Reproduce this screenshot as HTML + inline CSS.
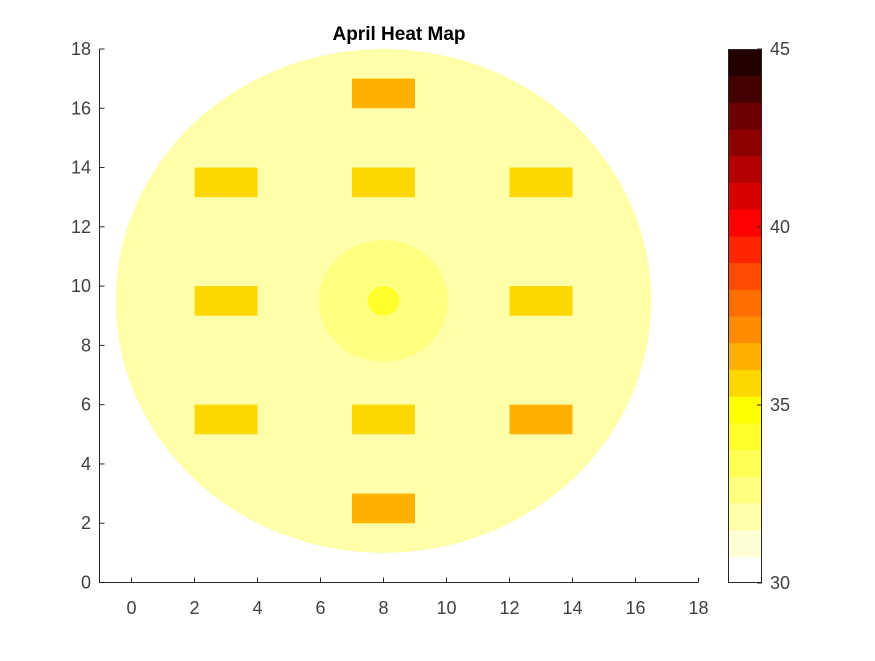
<!DOCTYPE html>
<html><head><meta charset="utf-8"><style>
body{margin:0;background:#fff;}
svg text{font-family:"Liberation Sans",sans-serif;}
</style></head><body>
<svg id="chart" width="875" height="656" viewBox="0 0 875 656" xmlns="http://www.w3.org/2000/svg">
<text x="399" y="40" text-anchor="middle" font-size="19" font-weight="bold" fill="#000">April Heat Map</text>
<g id="plot"></g>
<g id="axes"></g>
<g id="cbar"></g>
</svg>
<script>
const xTicks=[0,2,4,6,8,10,12,14,16,18];
const yTicks=[0,2,4,6,8,10,12,14,16,18];
const cbTicks=[30,35,40,45];
const cbColors=["#FFFFFF","#FFFFD5","#FFFFAA","#FFFF80","#FFFF55","#FFFF2B","#FFFF00","#FFD700","#FFB000","#FF8C00","#FF6E00","#FF4A00","#FF2600","#FF0000","#D90000","#B30000","#8C0000","#6B0000","#440000","#220000"];
// circles: center x, center y, radius, value
const circX=[8,8,8];
const circY=[9.5,9.5,9.5];
const circR=[8.5,2.05,0.5];
const circV=[31.8,32.6,34.0];
// rectangles: x0, y0 (width 2, height 1), value
const rectX=[7,2,7,12,2,12,2,7,12,7];
const rectY=[16,13,13,13,9,9,5,5,5,2];
const rectV=[36.2,35.5,35.5,35.5,35.5,35.5,35.5,35.5,36.2,36.2];
const rectW=[2,2,2,2,2,2,2,2,2,2];
const rectH=[1,1,1,1,1,1,1,1,1,1];

const NS="http://www.w3.org/2000/svg";
const X0=131.5,XS=31.5,Y0=582.5,YS=29.64;
const sx=v=>X0+v*XS, sy=v=>Y0-v*YS;
const cMin=30,cMax=45;
const color=v=>{let i=Math.floor((v-cMin)/(cMax-cMin)*cbColors.length);i=Math.max(0,Math.min(cbColors.length-1,i));return cbColors[i];};
function mk(t,a,p){const e=document.createElementNS(NS,t);for(const k in a)e.setAttribute(k,a[k]);p.appendChild(e);return e;}
const plot=document.getElementById('plot'),axes=document.getElementById('axes'),cb=document.getElementById('cbar');
circX.forEach((cx,i)=>{
 const e=mk('ellipse',{cx:sx(cx),cy:sy(circY[i]),rx:circR[i]*XS,ry:circR[i]*YS,fill:color(circV[i])},plot);
 
 
});
rectX.forEach((x,i)=>{
 const e=mk('rect',{x:sx(x),y:sy(rectY[i]+rectH[i]),width:rectW[i]*XS,height:rectH[i]*YS,fill:color(rectV[i])},plot);
 
 
});
mk('path',{d:`M99.5 49 V582.5 H698.5`,stroke:'#262626',fill:'none','stroke-width':1},axes);
xTicks.forEach(t=>{
 mk('line',{x1:sx(t),x2:sx(t),y1:582.5,y2:577.5,stroke:'#262626'},axes);
 const e=mk('text',{x:sx(t),y:614,'text-anchor':'middle','font-size':18,fill:'#404040'},axes);e.textContent=t;
 
 
});
yTicks.forEach(t=>{
 mk('line',{x1:99.5,x2:104.5,y1:sy(t),y2:sy(t),stroke:'#262626'},axes);
 const e=mk('text',{x:91,y:sy(t)+6,'text-anchor':'end','font-size':18,fill:'#404040'},axes);e.textContent=t;
 
 
});
const CB0=728,CBW=34,CBT=49,CBB=583;
const bh=(CBB-CBT)/cbColors.length;
cbColors.forEach((c,i)=>{
 const e=mk('rect',{x:CB0,y:CBB-(i+1)*bh,width:CBW,height:bh+0.5,fill:c},cb);
 
 
});
mk('rect',{x:CB0+0.5,y:CBT+0.5,width:CBW-1,height:CBB-CBT-1,fill:'none',stroke:'#262626'},cb);
const cy=v=>CBB-(v-cMin)/(cMax-cMin)*(CBB-CBT);
cbTicks.forEach(t=>{
 mk('line',{x1:CB0+CBW-5,x2:CB0+CBW,y1:cy(t),y2:cy(t),stroke:'#262626'},cb);
 const e=mk('text',{x:770,y:cy(t)+6,'font-size':18,fill:'#404040'},cb);e.textContent=t;
 
 
});
</script>
</body></html>
